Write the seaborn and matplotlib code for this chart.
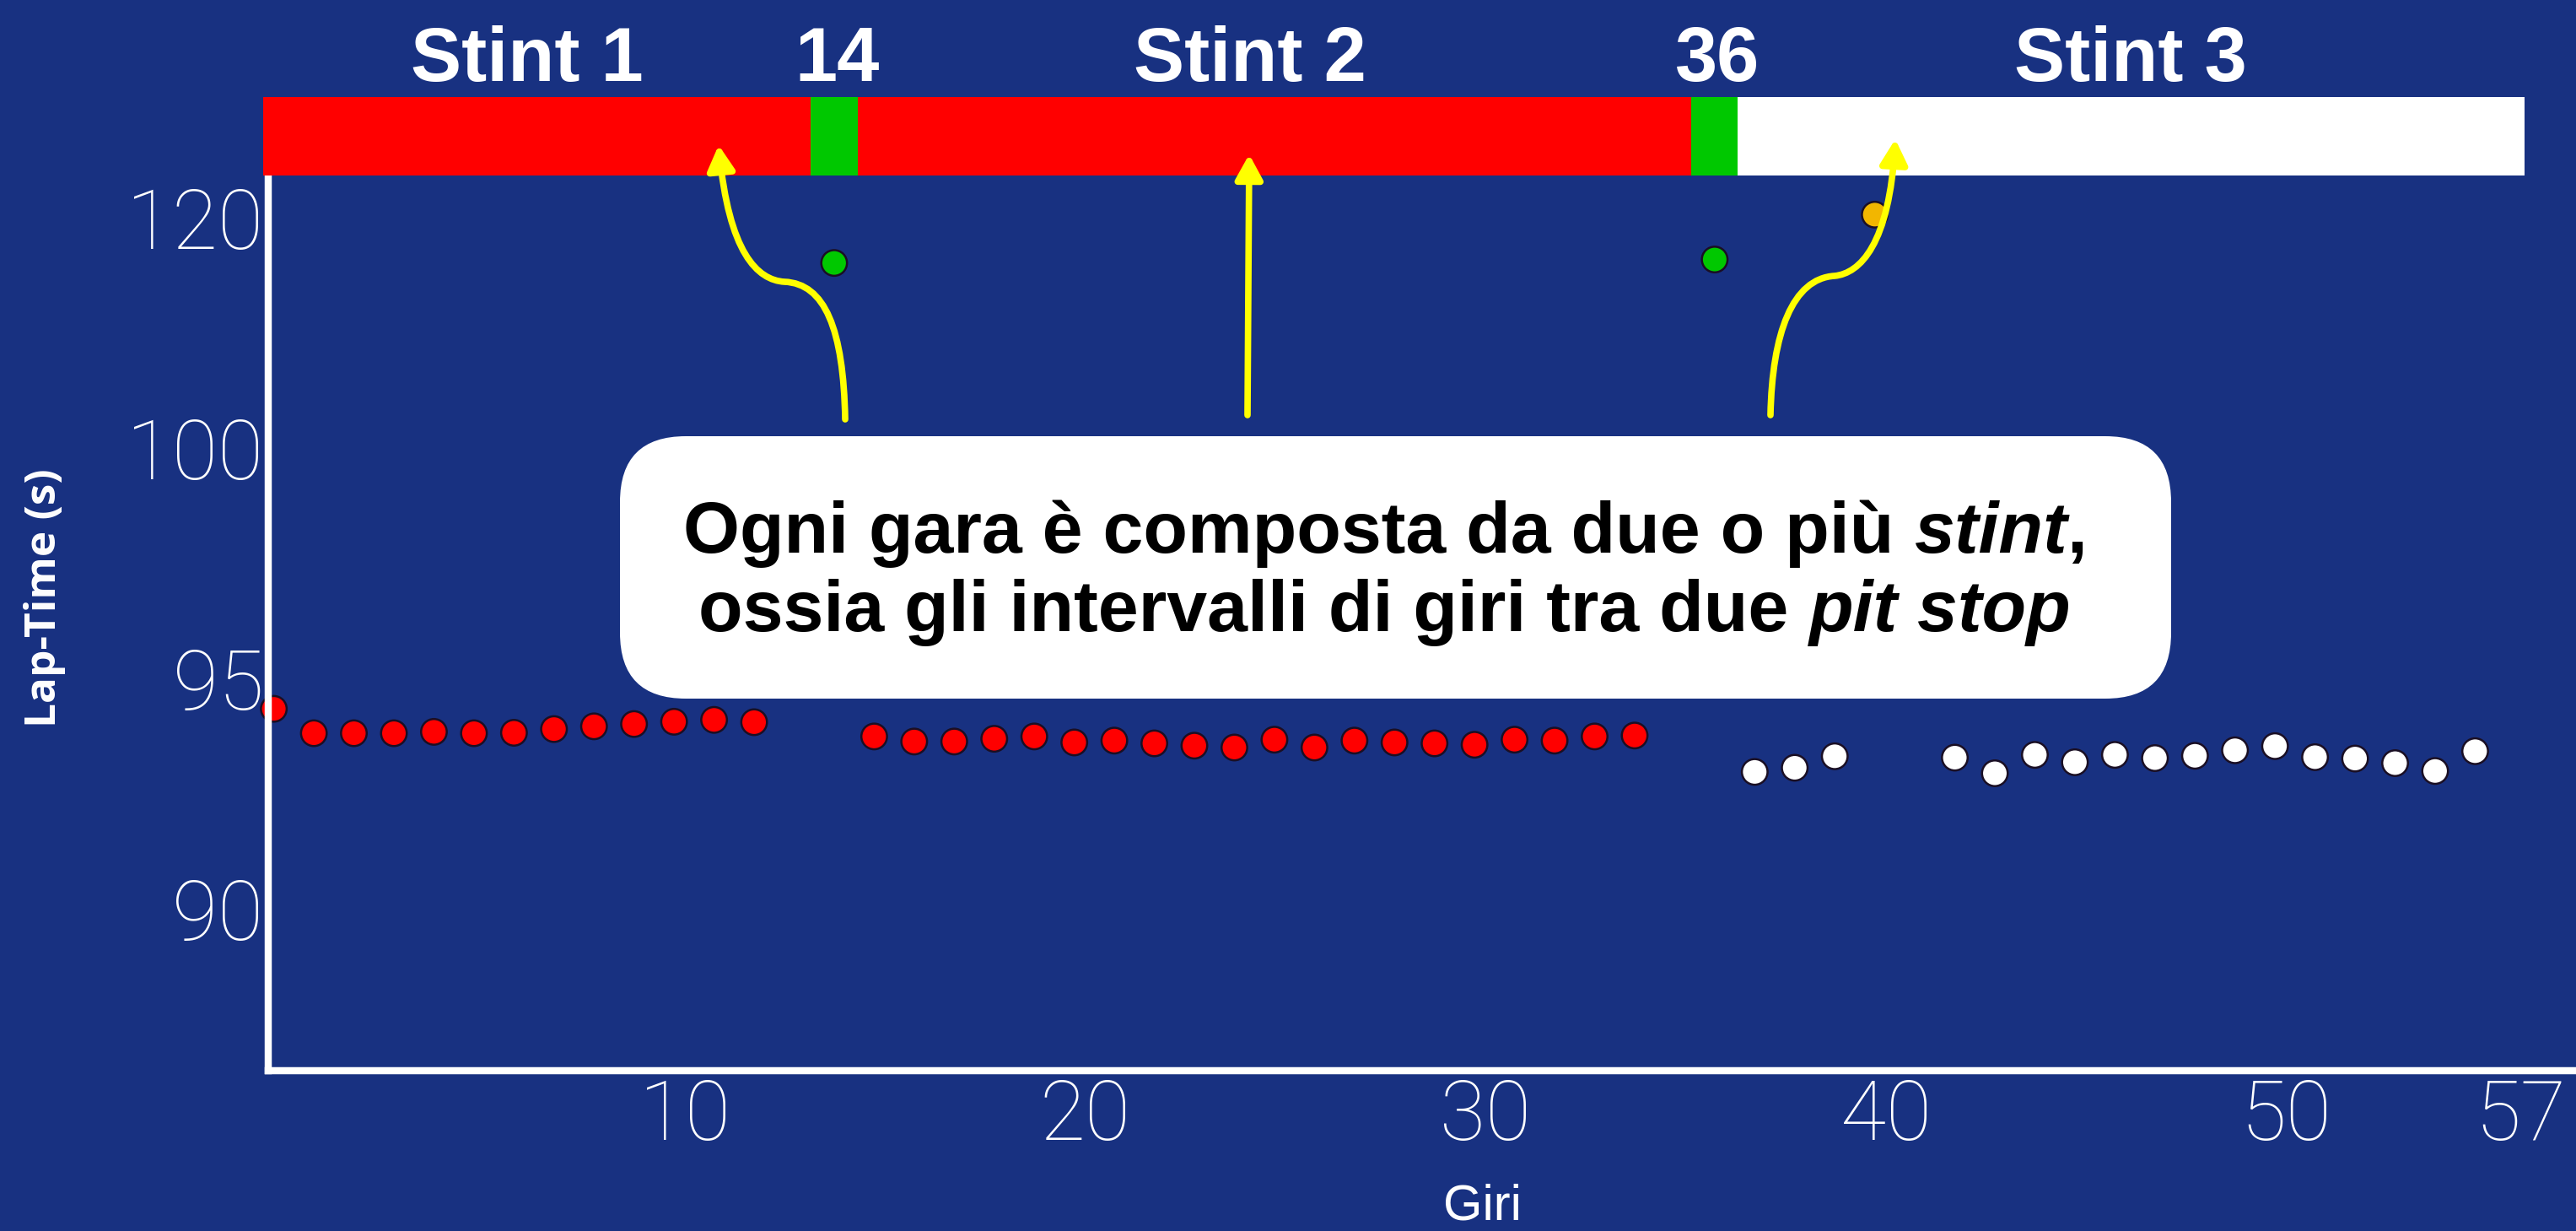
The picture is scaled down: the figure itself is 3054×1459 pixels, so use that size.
import numpy as np
import pandas as pd
import matplotlib
matplotlib.use("Agg")
import matplotlib.pyplot as plt
import matplotlib.transforms as mtransforms
from matplotlib import font_manager as fm
from matplotlib.patches import FancyBboxPatch, FancyArrowPatch
from matplotlib.path import Path
from matplotlib.text import Annotation
import seaborn as sns

# valori (tempo sul giro in secondi)
stint1_laps = list(range(0, 13))
stint1_times = [94.34, 93.81, 93.81, 93.81, 93.84, 93.81, 93.82, 93.90, 93.96,
                94.01, 94.06, 94.10, 94.05]
stint2_laps = list(range(15, 35))
stint2_times = [93.74, 93.63, 93.63, 93.69, 93.74, 93.61, 93.65, 93.59, 93.54, 93.50,
                93.67, 93.50, 93.65, 93.61, 93.59, 93.56, 93.67, 93.65, 93.74, 93.76]
stint3_laps = [37, 38, 39] + list(range(42, 56))
stint3_times = [92.97, 93.06, 93.31, 93.28, 92.94, 93.34, 93.18, 93.34, 93.27,
                93.32, 93.44, 93.53, 93.29, 93.26, 93.16, 92.99, 93.42]
pit_laps = [14, 36]
pit_times = [116.1, 116.4]
slow_laps = [40]
slow_times = [120.3]

# barra degli stint
bar_starts = [-0.26, 13.41, 14.59, 35.42, 36.58]
bar_ends = [13.41, 14.59, 35.42, 36.58, 56.23]
bar_colors = ['#ff0000', '#00c800', '#ff0000', '#00c800', '#ffffff']
bar_labels = ['Stint 1', '14', 'Stint 2', '36', 'Stint 3']
bar_label_laps = [6.33, 14.08, 24.4, 36.07, 46.4]

xtick_values = [10, 20, 30, 40, 50, 57]
ytick_values = [90, 95, 100, 120]

BG = '#183181'
W, H = 3054, 1459
SANS = ['Liberation Sans', 'DejaVu Sans']


def font(size, weight='normal', style='normal', family=SANS):
    return fm.FontProperties(family=family, weight=weight, style=style, size=size)


df = pd.concat([
    pd.DataFrame({'lap': stint1_laps, 'time': stint1_times, 'tipo': 'rosso'}),
    pd.DataFrame({'lap': stint2_laps, 'time': stint2_times, 'tipo': 'rosso'}),
    pd.DataFrame({'lap': stint3_laps, 'time': stint3_times, 'tipo': 'bianco'}),
    pd.DataFrame({'lap': pit_laps, 'time': pit_times, 'tipo': 'pit'}),
    pd.DataFrame({'lap': slow_laps, 'time': slow_times, 'tipo': 'lento'}),
], ignore_index=True)
palette = {'rosso': '#ff0000', 'bianco': '#ffffff', 'pit': '#00c800', 'lento': '#f2b600'}

fig = plt.figure(figsize=(W / 100, H / 100), dpi=100, facecolor=BG)
ax = fig.add_axes([318 / W, 1 - 1269 / H, 1 - 318 / W, (1269 - 208) / H])
ax.set_facecolor(BG)


# asse y "spezzato": sopra 100 s la scala e' compressa di 4 volte
def fwd(y):
    y = np.asarray(y, dtype=float)
    return np.where(y <= 100, y, 100 + (y - 100) / 4)


def inv(t):
    t = np.asarray(t, dtype=float)
    return np.where(t <= 100, t, 100 + (t - 100) * 4)


ax.set_yscale('function', functions=(fwd, inv))

sns.scatterplot(data=df, x='lap', y='time', hue='tipo', palette=palette, s=480,
                edgecolor='#1a0f24', linewidth=1.8, legend=False, ax=ax, clip_on=False)

ax.set_xlim(-0.14, 57.52)
ax.set_ylim(86.48, 123.7)

sns.despine(ax=ax)
for side in ['left', 'bottom']:
    ax.spines[side].set_color('white')
    ax.spines[side].set_linewidth(6.1)

ax.set_xticks(xtick_values, labels=[str(v) for v in xtick_values])
ax.set_yticks(ytick_values, labels=[str(v) for v in ytick_values])
ax.minorticks_off()
ax.tick_params(axis='both', length=0, colors='white')
ax.tick_params(axis='x', pad=6)
ax.tick_params(axis='y', pad=4)
tick_family = ['Roboto', 'DejaVu Sans']
shift = mtransforms.ScaledTranslation(0.13, 0, fig.dpi_scale_trans)
for lbl in ax.get_xticklabels():
    lbl.set_fontproperties(font(71, weight='light', family=tick_family))
    lbl.set_transform(lbl.get_transform() + shift)
ax.get_xticklabels()[-1].set_horizontalalignment('right')
for lbl in ax.get_yticklabels():
    lbl.set_fontproperties(font(71, weight='light', family=tick_family))

ax.set_xlabel('Giri', color='white', fontproperties=font(43), va='center')
ax.xaxis.set_label_coords((1757 - 318) / (W - 318), (1269 - 1430) / 1061)
ax.set_ylabel('Lap-Time (s)', color='white', va='center', ha='center',
              fontproperties=font(37, weight='bold', family=['Open Sans', 'DejaVu Sans']))
ax.yaxis.set_label_coords((53 - 318) / (W - 318), (1269 - 709) / 1061)

# barra colorata degli stint sopra il grafico
bax = fig.add_axes([318 / W, 1 - 208 / H, 1 - 318 / W, 93 / H], sharex=ax)
bax.set_axis_off()
bax.barh(0.5, width=np.subtract(bar_ends, bar_starts), left=bar_starts, height=1,
         color=bar_colors, clip_on=False)
bax.set_ylim(0, 1)
bax.set_xlim(-0.14, 57.52)
for lab, x in zip(bar_labels, bar_label_laps):
    bax.text(x, 1.204, lab, ha='center', va='baseline', color='white',
             fontproperties=font(65, weight='bold'), clip_on=False)

# coordinate in pixel dall'alto a sinistra
px = mtransforms.Affine2D().scale(1 / W, -1 / H).translate(0, 1) + fig.transFigure

box = FancyBboxPatch((735, 517), 1839, 311, boxstyle='round,pad=0,rounding_size=78',
                     transform=px, facecolor='white', edgecolor='none')
fig.add_artist(box)

arrow_style = '-|>,head_length=0.4,head_width=0.22'
arrow_paths = [
    [(1002, 497), (1000, 390), (978, 336), (930, 334), (898, 332), (864, 300), (852, 172)],
    [(2099, 492), (2101, 395), (2125, 330), (2175, 327), (2205, 324), (2240, 290), (2247, 165)],
]
codes = [Path.MOVETO] + [Path.CURVE4] * 6
for verts in arrow_paths:
    fig.add_artist(FancyArrowPatch(path=Path(verts, codes), transform=px, arrowstyle=arrow_style,
                                   mutation_scale=44, lw=5.5, color='#ffff00'))
fig.add_artist(FancyArrowPatch(path=Path([(1479, 492), (1481, 183)]), transform=px,
                               arrowstyle=arrow_style, mutation_scale=44, lw=5.5, color='#ffff00'))

# testo del riquadro con parti in corsivo
lines = [
    ([('Ogni gara è composta da due o più ', 'normal'), ('stint', 'italic'), (',', 'normal')], 655),
    ([('ossia gli intervalli di giri tra due ', 'normal'), ('pit stop', 'italic')], 748),
]
rich = []
for parts, base in lines:
    txts = []
    prev = None
    for s, style in parts:
        fp = font(62, weight='bold', style=style)
        if prev is None:
            t = fig.text(0, base, s, transform=px, va='baseline', ha='left',
                         fontproperties=fp, color='black')
        else:
            t = Annotation(s, xy=(1, 0), xycoords=prev, va='bottom', ha='left',
                           fontproperties=fp, color='black', annotation_clip=False)
            fig.add_artist(t)
        txts.append(t)
        prev = t
    rich.append((txts, base))

fig.canvas.draw()
for txts, base in rich:
    x0 = min(t.get_window_extent().x0 for t in txts)
    x1 = max(t.get_window_extent().x1 for t in txts)
    txts[0].set_position((1642 - (x1 - x0) / 2, base))

fig.savefig('out.png', dpi=100, facecolor=BG)
